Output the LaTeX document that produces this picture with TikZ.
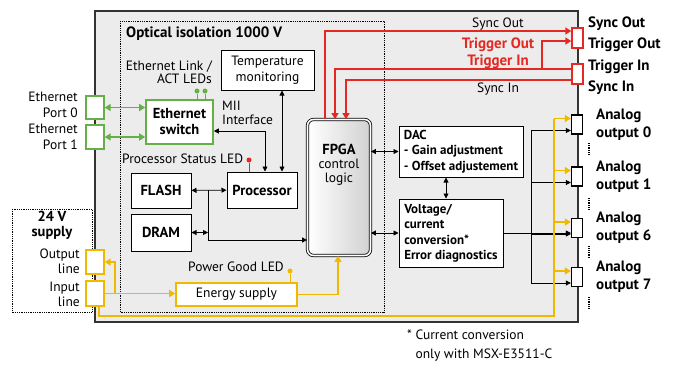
\documentclass[tikz,border=0pt]{standalone}
\usepackage{fontspec}
\setmainfont{PT Sans}
\usetikzlibrary{arrows.meta,positioning}
\definecolor{panelgray}{RGB}{235,236,235}
\definecolor{ethgreen}{RGB}{100,175,70}
\definecolor{trigred}{RGB}{230,40,35}
\definecolor{pwryellow}{RGB}{240,185,0}

\begin{document}
\begin{tikzpicture}[x=1pt,y=-1pt,font=\fontsize{13.5}{16}\selectfont,
	blk/.style={draw,line width=1pt,fill=white,inner sep=0pt},
	conn/.style={draw,line width=1.4pt,fill=white,minimum width=11pt,inner sep=0pt},
	lbl/.style={inner sep=0pt},
	boldtxt/.style={font=\fontsize{14.5}{16}\selectfont\bfseries},
	bigbold/.style={font=\fontsize{15}{18}\selectfont\bfseries},
	smallbold/.style={font=\fontsize{13}{15.5}\selectfont\bfseries},
	led/.style={circle,fill,inner sep=0pt,minimum size=5pt},
	arr/.style={line width=0.8pt,-{Triangle[length=5pt,width=5pt]}},
	darr/.style={line width=0.8pt,{Triangle[length=5pt,width=5pt]}-{Triangle[length=5pt,width=5pt]}},
	garr/.style={ethgreen,line width=1.6pt,{Triangle[length=6pt,width=7pt]}-{Triangle[length=6pt,width=7pt]}},
	rarr/.style={trigred,line width=1.6pt,-{Triangle[length=6pt,width=7pt]}},
	yarr/.style={pwryellow,line width=1.6pt,-{Triangle[length=6pt,width=7pt]}}]
\useasboundingbox (0,0) rectangle (684,365);

\fill[panelgray] (95,11) rectangle (578,322);
\draw[line width=1.2pt,black!80] (95,11) rectangle (578,322);
\draw[densely dotted,line width=0.8pt] (120,21) rectangle (384,312);
\draw[densely dotted,line width=0.8pt] (12,209) rectangle (92,312);

\node[lbl,bigbold,anchor=west] (isotitle) at (126,34) {Optical isolation 1000 V};
\node[lbl,align=right,anchor=east,font=\fontsize{13.5}{13}\selectfont] (ledtxt) at (212,72) {Ethernet Link /\\ACT LEDs};
\node[blk,minimum width=93pt,minimum height=40pt,align=center] (temp) at (267.5,70) {Temperature\\monitoring};
\node[blk,draw=ethgreen,line width=1.6pt,minimum width=67pt,minimum height=44pt,align=center,boldtxt] (ethsw) at (179.5,122) {Ethernet\\switch};
\node[conn,draw=ethgreen,minimum width=18pt,minimum height=23pt] (port0) at (95,107.5) {};
\node[conn,draw=ethgreen,minimum width=18pt,minimum height=24pt] (port1) at (95,137) {};
\node[lbl,align=right,anchor=east] (port0txt) at (78,105) {Ethernet\\Port 0};
\node[lbl,align=right,anchor=east] (port1txt) at (78,137) {Ethernet\\Port 1};
\node[led,ethgreen] (linkled) at (197,91) {};
\node[led,ethgreen] (actled) at (205,91) {};
\node[lbl,align=left,anchor=west,font=\fontsize{13.5}{14}\selectfont] (miitxt) at (222,113) {MII\\Interface};

\node[lbl,anchor=west] (statustxt) at (122,159) {Processor Status LED};
\node[led,trigred] (statled) at (249,160) {};
\node[blk,boldtxt,minimum width=70pt,minimum height=36pt] (proc) at (262,190) {Processor};
\node[blk,boldtxt,minimum width=60pt,minimum height=35pt] (flash) at (161,190.5) {FLASH};
\node[blk,boldtxt,minimum width=60pt,minimum height=37pt] (dram) at (161,232.5) {DRAM};
\node[draw,double,double distance=1.6pt,line width=0.8pt,rounded corners=6pt,left color=white,middle color=white,right color=black!18,minimum width=63pt,minimum height=136pt] (fpga) at (339,187.5) {};
\node[lbl,align=center,below=25pt of fpga.north,font=\fontsize{13.5}{14}\selectfont] (fpgatxt) {{\fontsize{14.5}{14}\selectfont\bfseries FPGA}\\control\\logic};

\node[blk,smallbold,align=left,minimum width=124pt,minimum height=51pt] (dac) at (461,151.5) {DAC\\- Gain adjustment\\- Offset adjustement};
\node[blk,smallbold,align=left,minimum width=104pt,minimum height=68pt] (volt) at (451,233) {Voltage/\\current\\conversion*\\Error diagnostics};

\node[conn,draw=trigred,minimum height=20pt] (syncconn) at (577.5,38) {};
\node[conn,draw=trigred,minimum height=20pt] (trigconn) at (577.5,74) {};
\node[lbl,bigbold,anchor=west] (syncouttxt) at (588,24) {Sync Out};
\node[lbl,bigbold,anchor=west] (trigouttxt) at (588,45) {Trigger Out};
\node[lbl,bigbold,anchor=west] (trigintxt) at (588,67) {Trigger In};
\node[lbl,bigbold,anchor=west] (syncintxt) at (588,88) {Sync In};
\node[lbl] (syncoutlbl) at (498,24) {Sync Out};
\node[lbl,bigbold,text=trigred] (trigoutlbl) at (498,45) {Trigger Out};
\node[lbl,bigbold,text=trigred] (triginlbl) at (498,62) {Trigger In};
\node[lbl] (syncinlbl) at (498,89) {Sync In};

\foreach \k/\y in {0/124.5,1/176.5,6/228,7/277} {
	\node[conn,minimum height=19pt] (ana\k) at (577,\y) {};
	\node[lbl,bigbold,align=left,anchor=west] (ana\k txt) at (596,\y) {Analog\\output \k};
}
\foreach \y in {149,204,251.5,303}
	\draw[densely dotted,line width=1.2pt] (589,\y-6) -- (589,\y+6);

\node[lbl,boldtxt,align=center,font=\fontsize{14.5}{15}\selectfont\bfseries] (supplytxt) at (52,225.5) {24 V\\supply};
\node[lbl,align=right,anchor=east,font=\fontsize{13.5}{15}\selectfont] (outtxt) at (80,261.5) {Output\\line};
\node[lbl,align=right,anchor=east,font=\fontsize{13.5}{15}\selectfont] (intxt) at (80,294.5) {Input\\line};
\node[conn,draw=pwryellow,minimum width=18pt,minimum height=24pt] (outline) at (95,262) {};
\node[conn,draw=pwryellow,minimum width=18pt,minimum height=25pt] (inline) at (95,293.5) {};
\node[blk,draw=pwryellow,line width=1.6pt,minimum width=121pt,minimum height=23pt] (energy) at (236.5,294.5) {Energy supply};
\node[lbl,anchor=west] (pgtxt) at (188,267) {Power Good LED};
\node[led,pwryellow] (pgled) at (290,271) {};

\node[lbl,align=left,anchor=north west,font=\fontsize{13.5}{19}\selectfont] (note) at (407,330) {*\ Current conversion\\\hphantom{*\ }only with MSX-E3511-C};

\coordinate (membus) at (208,190);
\coordinate (anabus) at (531,0);
\coordinate (pwrbus) at (554,316);
\coordinate (pwrbr) at (115,0);
\coordinate (trigbr) at (542,0);

\draw[garr] (port0.east) -- (port0.east -| ethsw.west);
\draw[garr] (port1.east) -- (port1.east -| ethsw.west);
\draw[ethgreen,line width=0.8pt] (linkled) -- (linkled |- ethsw.north);
\draw[ethgreen,line width=0.8pt] (actled) -- (actled |- ethsw.north);
\draw[darr] ([yshift=-9pt]ethsw.east) -| ([xshift=3pt]proc.north);
\draw[darr] ([xshift=14.5pt]temp.south) -- ([xshift=20pt]proc.north);
\draw[trigred,line width=0.8pt] (statled) -- (statled |- proc.north);
\draw[darr] (flash) -- (proc);
\draw[arr] (membus) |- ([yshift=-52.5pt]fpga.west);
\draw[darr] (dram.east) -- (dram.east -| membus);
\draw[darr] (fpga.east |- dac.west) -- (dac.west);
\draw[darr] (fpga.east |- volt.west) -- (volt.west);
\draw[darr] ([xshift=-15pt]dac.south) -- ([xshift=-5pt]volt.north);

\draw[line width=0.8pt] ([yshift=-6pt]ana0.west -| anabus) -- ([yshift=-6pt]ana7.west -| anabus);
\foreach \k in {0,1,6,7}
	\draw[arr] ([yshift=-6pt]ana\k.west -| anabus) -- ([yshift=-6pt]ana\k.west);
\draw[arr] (volt.east) -- (volt.east -| ana6.west);

\draw[rarr] ([xshift=-14pt]fpga.north) |- ([yshift=7pt]syncconn.west);
\draw[rarr,line width=2.4pt] ([yshift=5pt]trigconn.west -| trigbr) |- ([yshift=-3pt]syncconn.west);
\draw[rarr,line width=2.4pt] ([yshift=5pt]trigconn.west) -| ([xshift=-4pt]fpga.north);
\draw[rarr] ([yshift=-6pt]trigconn.west) -| ([xshift=7pt]fpga.north);

\draw[pwryellow,line width=1.6pt] ([xshift=4pt]inline.south) |- (pwrbus) -- ([yshift=6pt]ana0.west -| pwrbus);
\foreach \k in {0,1,6,7}
	\draw[yarr] ([yshift=6pt]ana\k.west -| pwrbus) -- ([yshift=6pt]ana\k.west);
\draw[yarr] (inline.east) -- (inline.east -| energy.west);
\draw[yarr] (inline.east -| pwrbr) |- (outline.east);
\draw[yarr] (energy.east) -| ([xshift=-1pt]fpga.south);
\draw[pwryellow,line width=0.8pt] (pgled) -- (pgled |- energy.north);
\end{tikzpicture}
\end{document}
